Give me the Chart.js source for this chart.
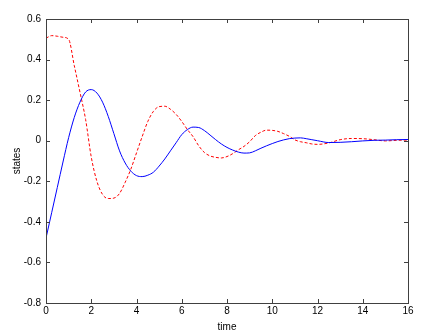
<!DOCTYPE html>
<html>
<head>
<meta charset="utf-8">
<script src="https://cdn.jsdelivr.net/npm/chart.js@4/dist/chart.umd.min.js"></script>
<style>
  html, body { margin: 0; padding: 0; background: #fff; }
  #wrap { width: 425px; height: 336px; }
</style>
</head>
<body>
<div id="wrap"><canvas id="c"></canvas></div>
<script>
// time samples and the two states
const time = [0, 0.25, 0.5, 0.75, 1, 1.25, 1.5, 1.75, 2, 2.25, 2.5, 2.75, 3, 3.25, 3.5, 3.75,
  4, 4.25, 4.5, 4.75, 5, 5.25, 5.5, 5.75, 6, 6.25, 6.5, 6.75, 7, 7.25, 7.5, 7.75,
  8, 8.25, 8.5, 8.75, 9, 9.25, 9.5, 9.75, 10, 10.25, 10.5, 10.75, 11, 11.25, 11.5, 11.75,
  12, 12.5, 13, 13.5, 14, 14.5, 15, 15.5, 16];
const state1 = [-0.48, -0.355, -0.23, -0.105, 0.015, 0.115, 0.19, 0.24, 0.252, 0.235, 0.19, 0.12,
  0.035, -0.05, -0.11, -0.15, -0.172, -0.177, -0.17, -0.155, -0.125, -0.09, -0.05, -0.01,
  0.03, 0.055, 0.067, 0.065, 0.05, 0.028, 0.005, -0.016, -0.033, -0.046, -0.056, -0.061,
  -0.06, -0.05, -0.037, -0.025, -0.014, -0.004, 0.004, 0.01, 0.013, 0.014, 0.01, 0.005,
  0.0, -0.009, -0.008, -0.005, -0.001, 0.002, 0.003, 0.005, 0.006];
const state2 = [0.505, 0.518, 0.515, 0.51, 0.5, 0.37, 0.24, 0.105, -0.08, -0.2, -0.265, -0.285,
  -0.283, -0.26, -0.205, -0.14, -0.06, 0.02, 0.095, 0.145, 0.168, 0.17, 0.155, 0.13,
  0.095, 0.055, 0.02, -0.025, -0.058, -0.075, -0.082, -0.085, -0.078, -0.064, -0.045, -0.028,
  -0.005, 0.025, 0.042, 0.052, 0.051, 0.046, 0.035, 0.022, 0.004, -0.005, -0.01, -0.016,
  -0.018, -0.011, 0.005, 0.011, 0.01, 0.005, -0.001, 0.002, 0.003];

const font = { family: "'Liberation Sans Narrow', 'Liberation Sans', Arial, sans-serif", size: 10 };

// matlab like box: frame on four sides with ticks pointing inwards
const boxPlugin = {
  id: 'box',
  afterDraw(chart) {
    const ctx = chart.ctx, a = chart.chartArea;
    const xs = chart.scales.x, ys = chart.scales.y;
    ctx.save();
    ctx.strokeStyle = '#404040';
    ctx.lineWidth = 1;
    ctx.beginPath();
    xs.ticks.forEach(t => {
      const p = Math.round(xs.getPixelForValue(t.value)) + 0.5;
      ctx.moveTo(p, a.bottom); ctx.lineTo(p, a.bottom - 4);
      ctx.moveTo(p, a.top); ctx.lineTo(p, a.top + 4);
    });
    ys.ticks.forEach(t => {
      const p = Math.round(ys.getPixelForValue(t.value)) + 0.5;
      ctx.moveTo(a.left, p); ctx.lineTo(a.left + 4, p);
      ctx.moveTo(a.right, p); ctx.lineTo(a.right - 4, p);
    });
    ctx.stroke();
    ctx.strokeRect(Math.round(a.left) + 0.5, Math.round(a.top) + 0.5,
      Math.round(a.right - a.left), Math.round(a.bottom - a.top));
    ctx.restore();
  }
};

new Chart(document.getElementById('c'), {
  type: 'line',
  data: {
    datasets: [
      {
        data: time.map((t, i) => ({ x: t, y: state1[i] })),
        borderColor: '#0000ff',
        borderWidth: 1,
        pointRadius: 0,
        cubicInterpolationMode: 'monotone'
      },
      {
        data: time.map((t, i) => ({ x: t, y: state2[i] })),
        borderColor: '#ff0000',
        borderWidth: 1,
        borderDash: [3, 2],
        pointRadius: 0,
        cubicInterpolationMode: 'monotone'
      }
    ]
  },
  options: {
    responsive: true,
    maintainAspectRatio: false,
    animation: false,
    layout: { padding: { top: 19, right: 17, left: 0, bottom: 0 } },
    plugins: { legend: { display: false }, tooltip: { enabled: false } },
    scales: {
      x: {
        type: 'linear',
        min: 0, max: 16,
        ticks: { stepSize: 2, color: '#000', font: font, padding: 2, maxRotation: 0 },
        grid: { display: false, drawTicks: false },
        border: { display: false },
        title: { display: true, text: 'time', color: '#000', font: font, padding: { top: 0, bottom: 3 } },
        afterFit(s) { s.height = 33; }
      },
      y: {
        min: -0.8, max: 0.6,
        ticks: {
          stepSize: 0.2, color: '#000', font: font, padding: 5,
          callback: v => Math.abs(v) < 1e-9 ? '0' : v.toFixed(1)
        },
        grid: { display: false, drawTicks: false },
        border: { display: false },
        title: { display: true, text: 'states', color: '#000', font: font, padding: { top: 11, bottom: 6 } },
        afterFit(s) { s.width = 46; }
      }
    }
  },
  plugins: [boxPlugin]
});
</script>
</body>
</html>
